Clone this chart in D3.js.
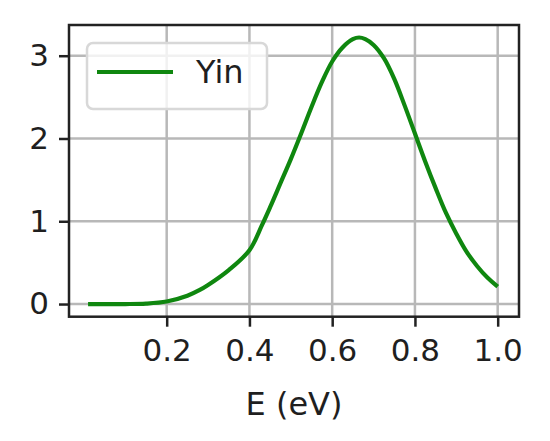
<!DOCTYPE html>
<html><head><meta charset="utf-8">
<script src="https://cdn.jsdelivr.net/npm/d3@7"></script>
<style>body{margin:0;background:#fff}svg{display:block}text{font-family:"DejaVu Sans",sans-serif;fill:#1f1f1f}</style>
</head><body><svg id="c" width="550" height="441"></svg>
<script>
const energy = [0.01,0.05,0.10,0.15,0.20,0.25,0.28,0.30,0.35,0.40,0.43,0.45,0.475,0.50,0.525,0.55,0.575,0.60,0.625,0.65,0.665,0.68,0.70,0.725,0.75,0.775,0.80,0.825,0.85,0.875,0.90,0.925,0.95,0.975,1.00];
const yin    = [0.0,0.0,0.0,0.005,0.03,0.10,0.17,0.23,0.41,0.65,0.95,1.17,1.46,1.75,2.06,2.38,2.68,2.93,3.10,3.20,3.22,3.20,3.13,2.97,2.72,2.40,2.06,1.72,1.40,1.10,0.85,0.63,0.46,0.32,0.21];
const xTicks = [0.2,0.4,0.6,0.8,1.0];
const yTicks = [0,1,2,3];
const seriesName = "Yin";
const xLabel = "E (eV)";

const svg = d3.select("#c");
const L=69,R=519,T=25,B=316.7;
const x = d3.scaleLinear().domain([-0.0361,1.0515]).range([L,R]);
const y = d3.scaleLinear().domain([-0.153,3.371]).range([B,T]);

// grid
const g = svg.append("g");
g.selectAll(".gx").data(xTicks).join("line").attr("x1",d=>x(d)).attr("x2",d=>x(d)).attr("y1",T).attr("y2",B).attr("stroke","#b8b8b8").attr("stroke-width",2.5);
g.selectAll(".gy").data(yTicks).join("line").attr("y1",d=>y(d)).attr("y2",d=>y(d)).attr("x1",L).attr("x2",R).attr("stroke","#b8b8b8").attr("stroke-width",2.5);

// line
const pts = energy.map((e,i)=>[e,yin[i]]);
svg.append("path").datum(pts).attr("fill","none").attr("stroke","#0f870f").attr("stroke-width",4.2)
  .attr("stroke-linejoin","round").attr("stroke-linecap","butt")
  .attr("d",d3.line().x(d=>x(d[0])).y(d=>y(d[1])).curve(d3.curveCatmullRom.alpha(0.5)));

// axes
const xa = svg.append("g").attr("transform",`translate(0,${B})`).call(d3.axisBottom(x).tickValues(xTicks).tickFormat(d3.format(".1f")).tickSize(10).tickPadding(12));
const ya = svg.append("g").attr("transform",`translate(${L},0)`).call(d3.axisLeft(y).tickValues(yTicks).tickFormat(d3.format("d")).tickSize(10).tickPadding(10));
[xa,ya].forEach(a=>{a.select(".domain").remove();a.selectAll("line").attr("stroke","#222").attr("stroke-width",2.5);a.selectAll("text").attr("font-size",31).attr("fill","#1f1f1f").attr("font-family","DejaVu Sans");});
svg.append("rect").attr("x",L).attr("y",T).attr("width",R-L).attr("height",B-T).attr("fill","none").attr("stroke","#222").attr("stroke-width",2.5);

svg.append("text").attr("x",(L+R)/2).attr("y",415).attr("text-anchor","middle").attr("font-size",32).text(xLabel);

// legend
const lg = svg.append("g");
lg.append("rect").attr("x",87).attr("y",43).attr("width",180).attr("height",66).attr("rx",6).attr("fill","#fff").attr("fill-opacity",0.8).attr("stroke","#d8d8d8").attr("stroke-width",2.5);
lg.append("line").attr("x1",97).attr("x2",173).attr("y1",72).attr("y2",72).attr("stroke","#0f870f").attr("stroke-width",4.2);
lg.append("text").attr("x",196).attr("y",83).attr("font-size",32).text(seriesName);
</script></body></html>
